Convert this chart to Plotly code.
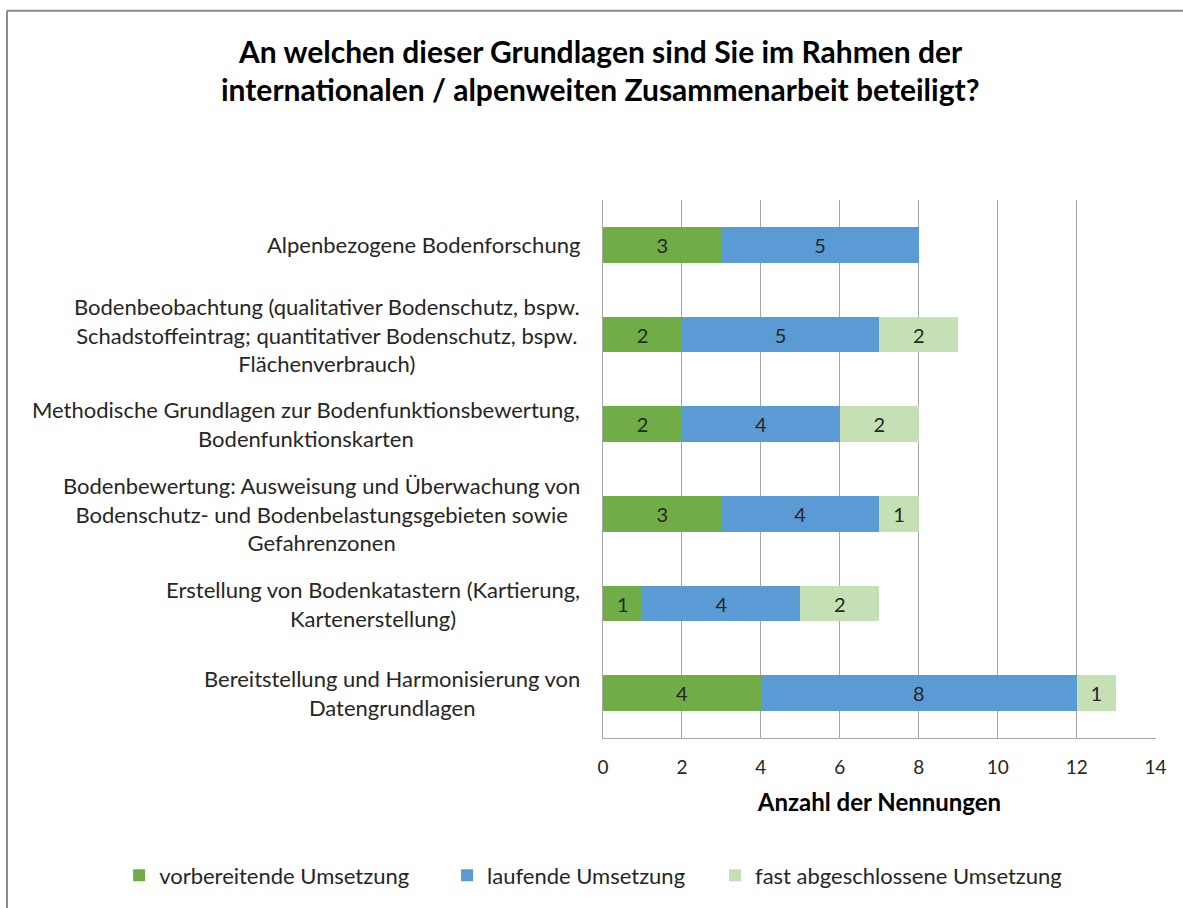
import plotly.graph_objects as go

# Survey categories (top to bottom) and counts per implementation stage
categories = [
    "Alpenbezogene Bodenforschung",
    "Bodenbeobachtung (qualitativer Bodenschutz, bspw.<br>Schadstoffeintrag; quantitativer Bodenschutz, bspw.<br>Flächenverbrauch)",
    "Methodische Grundlagen zur Bodenfunktionsbewertung,<br>Bodenfunktionskarten",
    "Bodenbewertung: Ausweisung und Überwachung von<br>Bodenschutz- und Bodenbelastungsgebieten sowie<br>Gefahrenzonen",
    "Erstellung von Bodenkatastern (Kartierung,<br>Kartenerstellung)",
    "Bereitstellung und Harmonisierung von<br>Datengrundlagen",
]
vorbereitend = [3, 2, 2, 3, 1, 4]
laufend = [5, 5, 4, 4, 4, 8]
fast_abgeschlossen = [0, 2, 2, 1, 2, 1]

series_names = ["vorbereitende Umsetzung", "laufende Umsetzung", "fast abgeschlossene Umsetzung"]
series_values = [vorbereitend, laufend, fast_abgeschlossen]
series_colors = ["#70AD47", "#5B9BD5", "#C5E0B4"]
legend_ids = ["legend", "legend2", "legend3"]

x_ticks = [0, 2, 4, 6, 8, 10, 12, 14]

FONT = "Lato"
TEXT = "#262626"
GRID = "#A6A6A6"

fig = go.Figure()
for name, vals, color, lg in zip(series_names, series_values, series_colors, legend_ids):
    fig.add_trace(go.Bar(
        y=categories,
        x=vals,
        name=name,
        orientation="h",
        marker=dict(color=color, line=dict(width=0)),
        text=[str(v) if v else "" for v in vals],
        textposition="inside",
        insidetextanchor="middle",
        textangle=0,
        constraintext="none",
        textfont=dict(family=FONT, size=20, color=TEXT),
        legend=lg,
        hoverinfo="x+name",
    ))

# Category labels, centred line by line, right-aligned next to the axis
annotations = []
for cat in categories:
    annotations.append(dict(
        text=cat, xref="paper", yref="y", x=-0.038, y=cat,
        xanchor="right", yanchor="middle", align="center", showarrow=False,
        font=dict(family=FONT, size=22, color=TEXT),
    ))

# Two-line title
title_lines = [
    "An welchen dieser Grundlagen sind Sie im Rahmen der",
    "internationalen / alpenweiten Zusammenarbeit beteiligt?",
]
for line, ypx in zip(title_lines, [50, 89]):
    annotations.append(dict(
        text="<b>" + line + "</b>", xref="paper", yref="paper",
        x=(600 - 603) / 553, y=(740 - ypx) / 540,
        xanchor="center", yanchor="middle", showarrow=False,
        font=dict(family=FONT, size=30, color="#000000"),
    ))

legend_common = dict(
    orientation="h", yanchor="middle", xanchor="left", y=(740 - 878) / 540,
    bgcolor="rgba(0,0,0,0)", font=dict(family=FONT, size=22, color=TEXT),
)

# Chart frame (top and left edges)
frame_x = (7 - 603) / 553
frame_y = (740 - 10) / 540
shapes = [
    dict(type="line", xref="paper", yref="paper", x0=frame_x, x1=1.2, y0=frame_y, y1=frame_y,
         line=dict(color="#8C8C8C", width=2), layer="below"),
    dict(type="line", xref="paper", yref="paper", x0=frame_x, x1=frame_x, y0=-0.5, y1=frame_y,
         line=dict(color="#8C8C8C", width=2), layer="below"),
]

fig.update_layout(
    width=1183, height=908,
    margin=dict(l=603, r=27, t=200, b=168),
    paper_bgcolor="white", plot_bgcolor="white",
    barmode="stack", bargap=0.6,
    showlegend=True,
    legend=dict(x=-0.875, **legend_common),
    legend2=dict(x=-0.282, **legend_common),
    legend3=dict(x=0.2025, **legend_common),
    annotations=annotations,
    xaxis=dict(
        range=[0, 14.01], tickvals=x_ticks, ticktext=[str(t) for t in x_ticks],
        showgrid=True, gridcolor=GRID, gridwidth=1,
        showline=True, linecolor=GRID, linewidth=1, zeroline=False,
        ticks="", ticklabelstandoff=12,
        tickfont=dict(family=FONT, size=19, color=TEXT),
        title=dict(text="<b>Anzahl der Nennungen</b>", standoff=17,
                   font=dict(family=FONT, size=24, color="#000000")),
    ),
    yaxis=dict(
        categoryorder="array", categoryarray=categories, autorange="reversed",
        showticklabels=False, showgrid=False, zeroline=False,
        showline=True, linecolor=GRID, linewidth=1, ticks="",
    ),
    shapes=shapes,
)

fig.write_html("out.html")
